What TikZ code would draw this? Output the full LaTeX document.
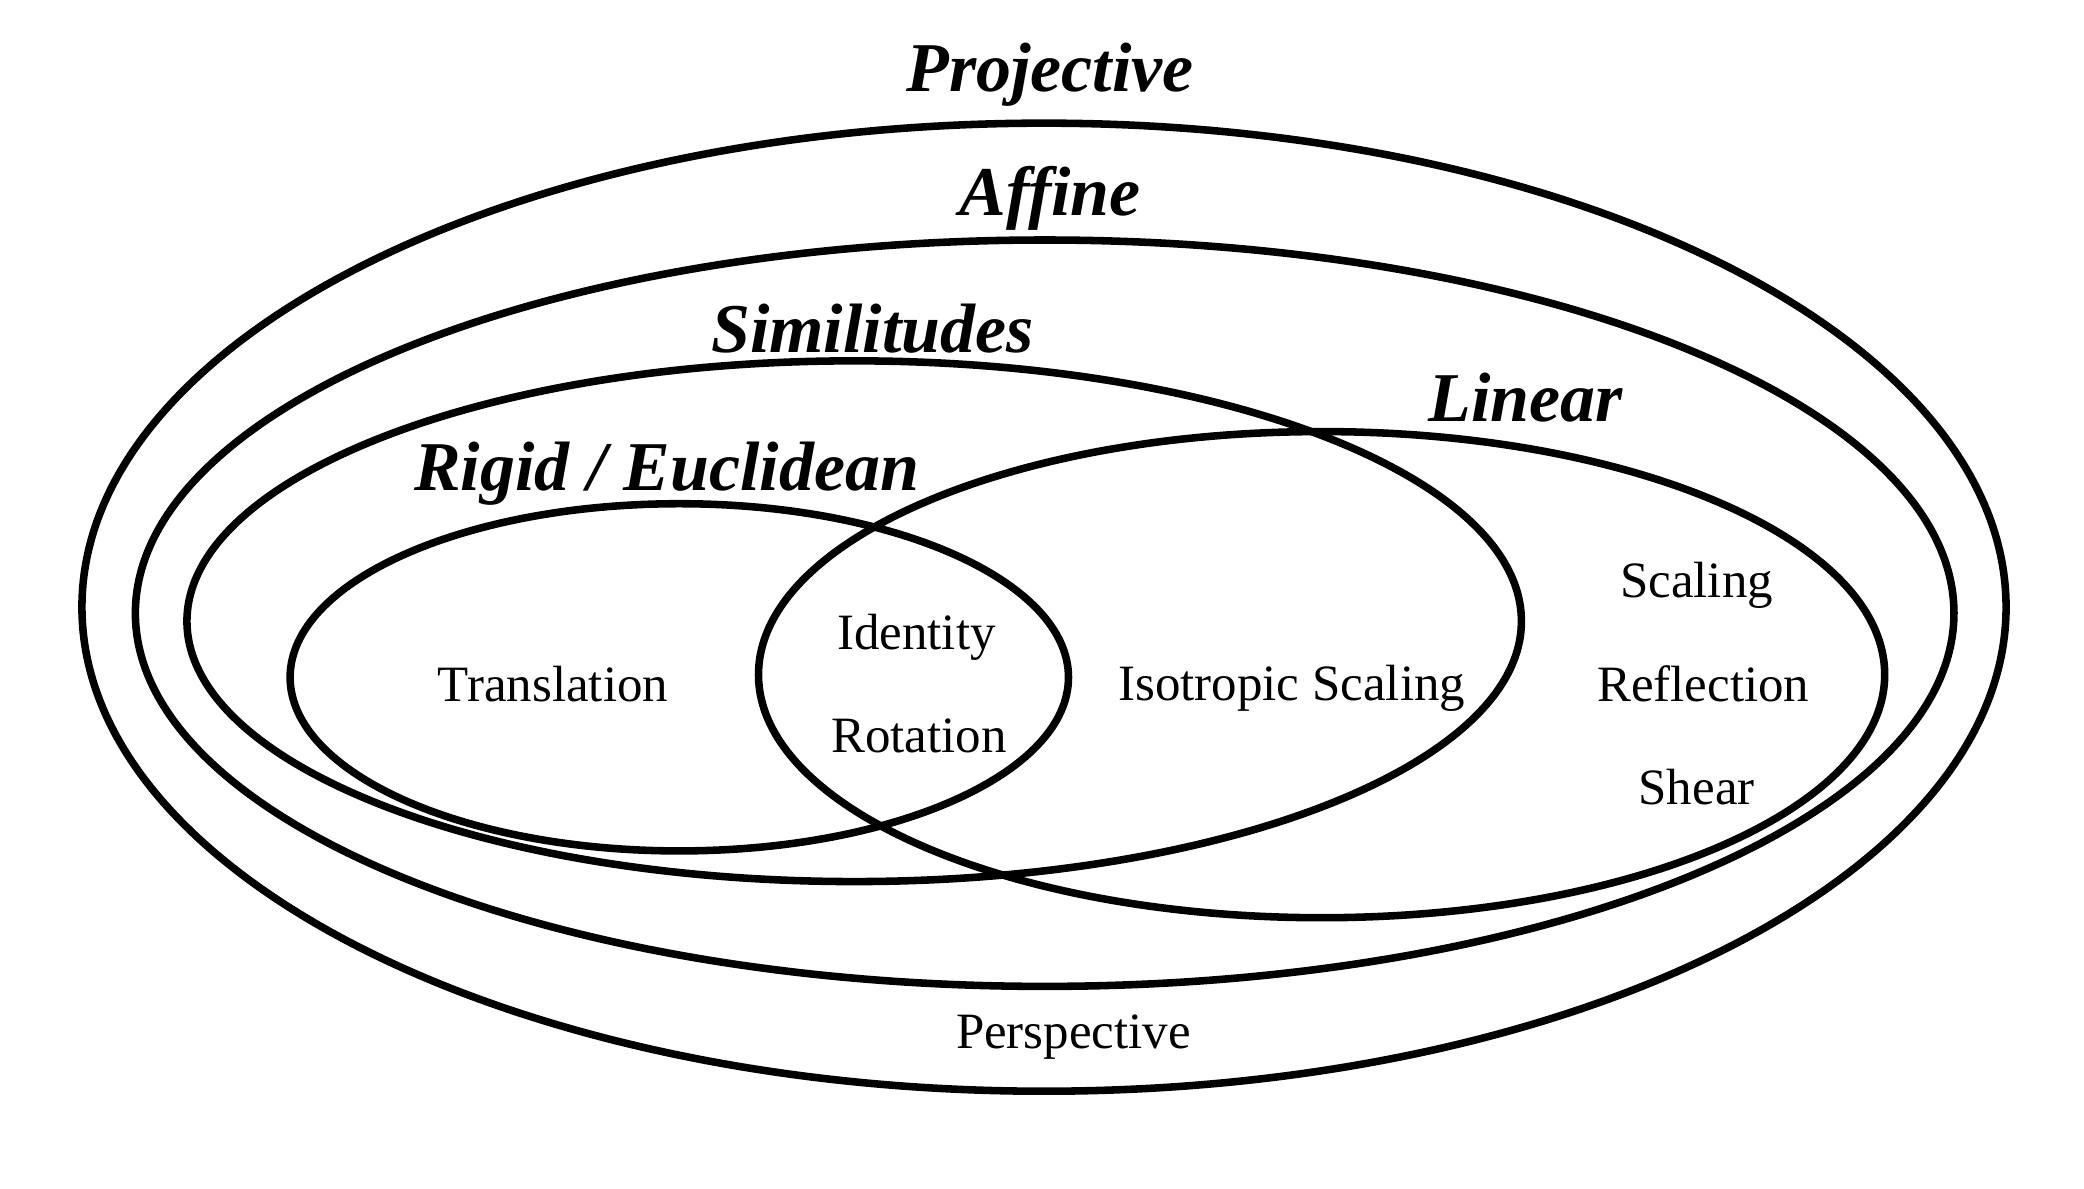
\documentclass[tikz,border=0pt]{standalone}
\usepackage{fontspec}
\setmainfont{Liberation Serif}
\begin{document}
\begin{tikzpicture}[x=0.01336cm,y=-0.01336cm,
  ring/.style={draw=black,line width=2.15pt},
  setlabel/.style={anchor=base,inner sep=0pt,font=\fontsize{19.9}{24}\selectfont\bfseries\itshape},
  item/.style={anchor=base,inner sep=0pt,font=\fontsize{14.5}{18}\selectfont}]
\useasboundingbox (0,0) rectangle (1560,889.3);
% sets
\draw[ring] (781.5,454.5) ellipse [x radius=9.626cm, y radius=4.843cm];
\draw[ring] (782,459) ellipse [x radius=9.098cm, y radius=3.734cm];
\draw[ring] (639.4,465) ellipse [x radius=6.676cm, y radius=2.605cm];
\draw[ring] (508.5,507) ellipse [x radius=3.894cm, y radius=1.737cm];
\draw[ring] (989.3,505) ellipse [x radius=5.634cm, y radius=2.432cm];
% set names
\node[setlabel] (projective) at (786,68.6) {Projective};
\node[setlabel] (affine) at (786,161) {Affine};
\node[setlabel] (similitudes) at (653,264) {Similitudes};
\node[setlabel] (linear) at (1142,315.6) {Linear};
\node[setlabel] (rigid) at (499,367) {Rigid / Euclidean};
% members
\node[item] (translation) at (414,525) {Translation};
\node[item] (identity) at (686,486) {Identity};
\node[item] (rotation) at (688,563.6) {Rotation};
\node[item] (isotropic) at (967,524) {Isotropic Scaling};
\node[item] (scaling) at (1270,447.5) {Scaling};
\node[item] (reflection) at (1275,525) {Reflection};
\node[item] (shear) at (1270,602.5) {Shear};
\node[item] (perspective) at (803.5,784.5) {Perspective};
\end{tikzpicture}
\end{document}
